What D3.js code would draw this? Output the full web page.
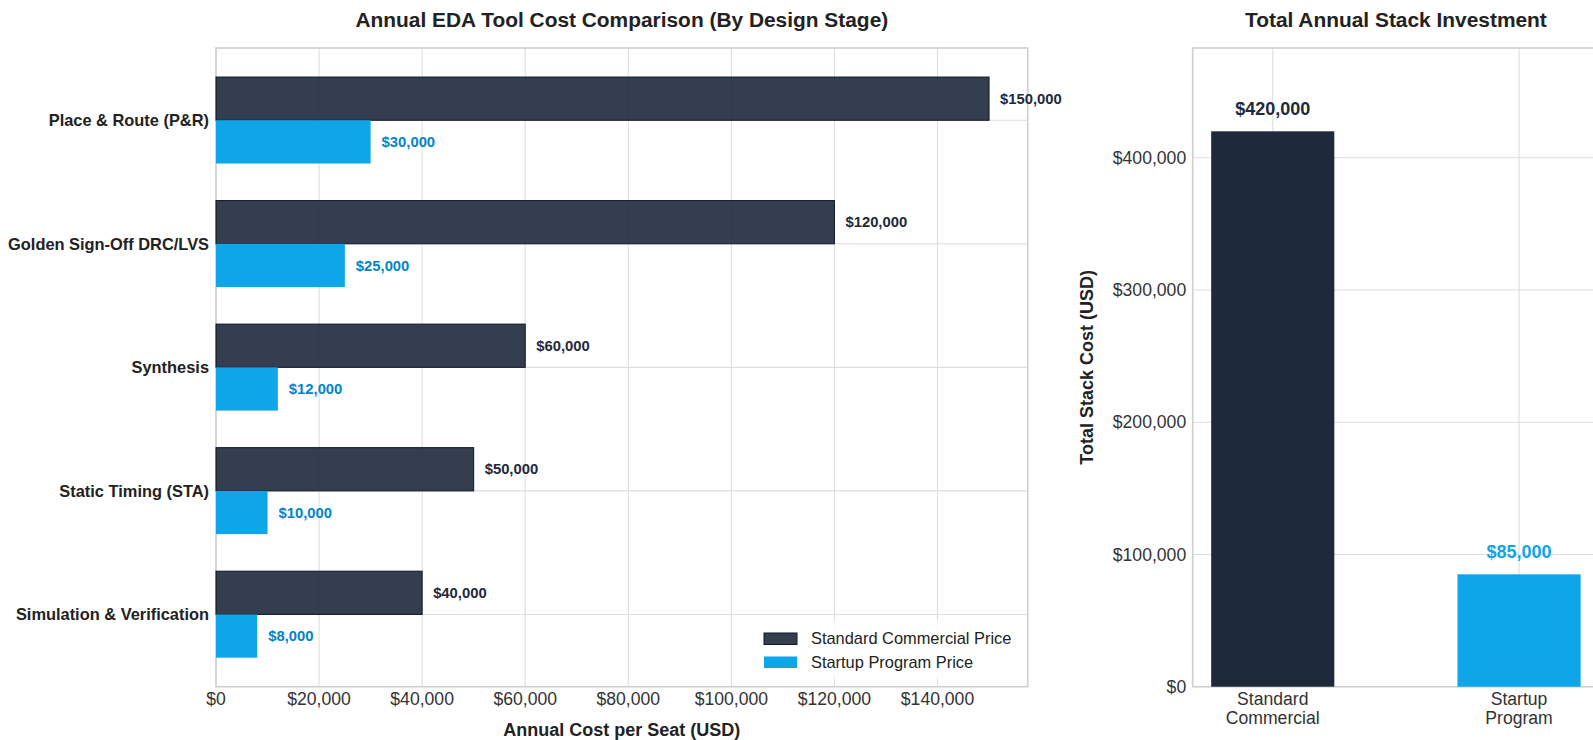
<!DOCTYPE html>
<html>
<head>
<meta charset="utf-8">
<script src="https://cdn.jsdelivr.net/npm/d3@7"></script>
<style>
  html, body { margin: 0; padding: 0; background: #fff; }
  svg { display: block; font-family: "Liberation Sans", Arial, sans-serif; }
</style>
</head>
<body>
<svg id="chart" width="1593" height="740"></svg>
<script>
// ---------------- DATA ----------------
const stages = ["Place & Route (P&R)", "Golden Sign-Off DRC/LVS", "Synthesis", "Static Timing (STA)", "Simulation & Verification"];
const standardPrice = [150000, 120000, 60000, 50000, 40000];
const startupPrice = [30000, 25000, 12000, 10000, 8000];
const seriesNames = ["Standard Commercial Price", "Startup Program Price"];
const xTicksLeft = [0, 20000, 40000, 60000, 80000, 100000, 120000, 140000];

const stackCategories = [["Standard", "Commercial"], ["Startup", "Program"]];
const stackTotals = [d3.sum(standardPrice), d3.sum(startupPrice)];
const yTicksRight = [0, 100000, 200000, 300000, 400000];

const leftTitle = "Annual EDA Tool Cost Comparison (By Design Stage)";
const leftXLabel = "Annual Cost per Seat (USD)";
const rightTitle = "Total Annual Stack Investment";
const rightYLabel = "Total Stack Cost (USD)";

// ---------------- STYLE ----------------
const C = {
  std: "#1e293b", stdEdge: "#0f172a", startup: "#0ea5e9",
  stdLabel: "#1e293b", startupLabel: "#0284c7",
  grid: "#dedede", spine: "#cfcfcf", tick: "#333333", text: "#222222"
};
const fmt = v => "$" + d3.format(",")(v);

const svg = d3.select("#chart");

// ================= LEFT CHART =================
const L = { left: 216, right: 1027.7, top: 48, bottom: 686.7 };
const barH = 0.35;
const xL = d3.scaleLinear().domain([0, d3.max(standardPrice) * 1.05]).range([L.left, L.right]);
const yPad = (stages.length - 1 + 2 * barH) * 0.05;
const yLeft = d3.scaleLinear()
  .domain([-barH - yPad, stages.length - 1 + barH + yPad])
  .range([L.top, L.bottom]);

const gL = svg.append("g");
// grid
gL.append("g").selectAll("line").data(xTicksLeft).join("line")
  .attr("x1", d => xL(d)).attr("x2", d => xL(d))
  .attr("y1", L.top).attr("y2", L.bottom)
  .attr("stroke", C.grid).attr("stroke-width", 1.1);
gL.append("g").selectAll("line").data(stages).join("line")
  .attr("x1", L.left).attr("x2", L.right)
  .attr("y1", (d, i) => yLeft(i)).attr("y2", (d, i) => yLeft(i))
  .attr("stroke", C.grid).attr("stroke-width", 1.1);
// spines
gL.append("rect").attr("x", L.left).attr("y", L.top)
  .attr("width", L.right - L.left).attr("height", L.bottom - L.top)
  .attr("fill", "none").attr("stroke", C.spine).attr("stroke-width", 1.6);

// bars
gL.append("g").selectAll("rect").data(standardPrice).join("rect")
  .attr("x", xL(0)).attr("y", (d, i) => yLeft(i - barH))
  .attr("width", d => xL(d) - xL(0))
  .attr("height", (d, i) => yLeft(i) - yLeft(i - barH))
  .attr("fill", C.std).attr("fill-opacity", 0.9)
  .attr("stroke", C.stdEdge).attr("stroke-width", 1);
gL.append("g").selectAll("rect").data(startupPrice).join("rect")
  .attr("x", xL(0)).attr("y", (d, i) => yLeft(i))
  .attr("width", d => xL(d) - xL(0))
  .attr("height", (d, i) => yLeft(i + barH) - yLeft(i))
  .attr("fill", C.startup);

// value labels
gL.append("g").selectAll("text").data(standardPrice).join("text")
  .attr("x", d => xL(d) + 11).attr("y", (d, i) => yLeft(i - barH / 2))
  .attr("dy", "0.35em").attr("font-size", 14.8).attr("font-weight", "bold")
  .attr("fill", C.stdLabel).text(fmt);
gL.append("g").selectAll("text").data(startupPrice).join("text")
  .attr("x", d => xL(d) + 11).attr("y", (d, i) => yLeft(i + barH / 2))
  .attr("dy", "0.35em").attr("font-size", 14.8).attr("font-weight", "bold")
  .attr("fill", C.startupLabel).text(fmt);

// category labels
gL.append("g").selectAll("text").data(stages).join("text")
  .attr("x", L.left - 7).attr("y", (d, i) => yLeft(i))
  .attr("dy", "0.35em").attr("text-anchor", "end")
  .attr("font-size", 16.4).attr("font-weight", "bold").attr("fill", C.text).text(d => d);

// x tick labels
gL.append("g").selectAll("text").data(xTicksLeft).join("text")
  .attr("x", d => xL(d)).attr("y", L.bottom + 12.5)
  .attr("dy", "0.35em").attr("text-anchor", "middle")
  .attr("font-size", 17.6).attr("fill", C.tick).text(fmt);

// titles
gL.append("text").attr("x", (L.left + L.right) / 2).attr("y", 19.5).attr("dy", "0.35em")
  .attr("text-anchor", "middle").attr("font-size", 20.9).attr("font-weight", "bold")
  .attr("fill", C.text).text(leftTitle);
gL.append("text").attr("x", (L.left + L.right) / 2).attr("y", 729.5).attr("dy", "0.35em")
  .attr("text-anchor", "middle").attr("font-size", 18).attr("font-weight", "bold")
  .attr("fill", C.text).text(leftXLabel);

// legend
const lg = gL.append("g");
const lgX = 757, lgY = 620, lgW = 262, lgH = 59;
lg.append("rect").attr("x", lgX).attr("y", lgY).attr("width", lgW).attr("height", lgH)
  .attr("fill", "#fff").attr("fill-opacity", 0.8).attr("rx", 3);
[[C.std, 0.9, C.stdEdge], [C.startup, 1, "none"]].forEach((s, i) => {
  const cy = lgY + 18.5 + i * 23.5;
  lg.append("rect").attr("x", lgX + 7).attr("y", cy - 5.5).attr("width", 33).attr("height", 11.5)
    .attr("fill", s[0]).attr("fill-opacity", s[1]).attr("stroke", s[2]).attr("stroke-width", 1);
  lg.append("text").attr("x", lgX + 54).attr("y", cy).attr("dy", "0.35em")
    .attr("font-size", 16.4).attr("fill", C.text).text(seriesNames[i]);
});

// ================= RIGHT CHART =================
const R = { left: 1192.7, top: 48, bottom: 686.7 };
const barW = 0.5;
const xPad = (stackCategories.length - 1 + barW) * 0.05;
const catStep = 246.3;
const xDomain = [-barW / 2 - xPad, stackCategories.length - 1 + barW / 2 + xPad];
const xR = d3.scaleLinear().domain(xDomain)
  .range([R.left, R.left + (xDomain[1] - xDomain[0]) * catStep]);
const R_right = xR(xDomain[1]);
const yR = d3.scaleLinear().domain([0, d3.max(stackTotals) * 1.15]).range([R.bottom, R.top]);

const gR = svg.append("g");
gR.append("g").selectAll("line").data(yTicksRight).join("line")
  .attr("x1", R.left).attr("x2", R_right)
  .attr("y1", d => yR(d)).attr("y2", d => yR(d))
  .attr("stroke", C.grid).attr("stroke-width", 1.1);
gR.append("g").selectAll("line").data(stackCategories).join("line")
  .attr("x1", (d, i) => xR(i)).attr("x2", (d, i) => xR(i))
  .attr("y1", R.top).attr("y2", R.bottom)
  .attr("stroke", C.grid).attr("stroke-width", 1.1);
gR.append("rect").attr("x", R.left).attr("y", R.top)
  .attr("width", R_right - R.left).attr("height", R.bottom - R.top)
  .attr("fill", "none").attr("stroke", C.spine).attr("stroke-width", 1.6);

const rColors = [C.std, C.startup];
const rLabelColors = [C.std, C.startup];
gR.append("g").selectAll("rect").data(stackTotals).join("rect")
  .attr("x", (d, i) => xR(i - barW / 2)).attr("y", d => yR(d))
  .attr("width", (d, i) => xR(i + barW / 2) - xR(i - barW / 2))
  .attr("height", d => yR(0) - yR(d))
  .attr("fill", (d, i) => rColors[i]);
gR.append("g").selectAll("text").data(stackTotals).join("text")
  .attr("x", (d, i) => xR(i)).attr("y", d => yR(d) - 23).attr("dy", "0.35em")
  .attr("text-anchor", "middle").attr("font-size", 18).attr("font-weight", "bold")
  .attr("fill", (d, i) => rLabelColors[i]).text(fmt);

// y ticks
gR.append("g").selectAll("text").data(yTicksRight).join("text")
  .attr("x", R.left - 6.5).attr("y", d => yR(d)).attr("dy", "0.35em")
  .attr("text-anchor", "end").attr("font-size", 17.6).attr("fill", C.tick).text(fmt);
// x ticks (two lines)
stackCategories.forEach((lines, i) => {
  lines.forEach((t, j) => {
    gR.append("text").attr("x", xR(i)).attr("y", R.bottom + 12.5 + j * 18.3).attr("dy", "0.35em")
      .attr("text-anchor", "middle").attr("font-size", 17.6).attr("fill", C.tick).text(t);
  });
});
gR.append("text").attr("x", (R.left + R_right) / 2).attr("y", 19.5).attr("dy", "0.35em")
  .attr("text-anchor", "middle").attr("font-size", 20.9).attr("font-weight", "bold")
  .attr("fill", C.text).text(rightTitle);
gR.append("text").attr("transform", `translate(1087,${(R.top + R.bottom) / 2}) rotate(-90)`)
  .attr("dy", "0.35em").attr("text-anchor", "middle").attr("font-size", 18).attr("font-weight", "bold")
  .attr("fill", C.text).text(rightYLabel);
</script>
</body>
</html>
